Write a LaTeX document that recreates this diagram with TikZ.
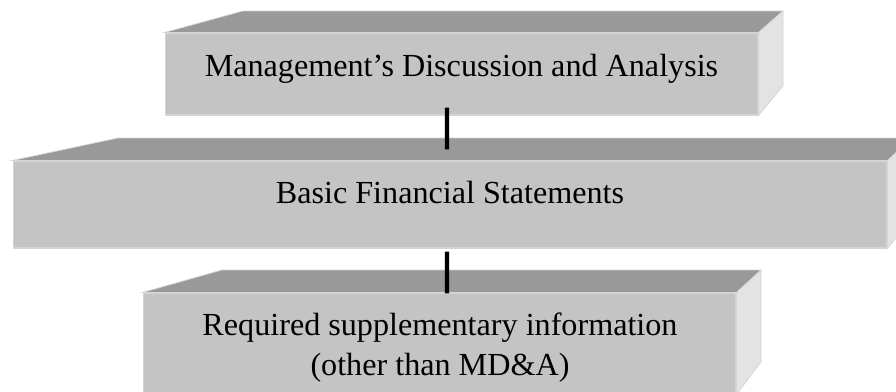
\documentclass[tikz,border=0pt]{standalone}
\usepackage{fontspec}
\setmainfont{Liberation Serif}
\definecolor{frontgray}{HTML}{C4C4C4}
\definecolor{topgray}{HTML}{999999}
\definecolor{sidegray}{HTML}{E3E3E3}
\definecolor{edgegray}{HTML}{D4D4D4}
\tikzset{
  front/.style={fill=frontgray, draw=edgegray, line width=0.6pt, inner sep=0pt},
  topface/.style={fill=topgray, draw=edgegray, line width=0.4pt},
  sideface/.style={fill=sidegray, draw=edgegray, line width=0.4pt},
  boxtext/.style={font=\fontsize{18.3}{22.7}\selectfont, inner sep=0pt, align=center},
  link/.style={line width=2.3pt, black}
}
\begin{document}
\begin{tikzpicture}[x=0.02cm, y=-0.02cm]
  \useasboundingbox (0,0) rectangle (896,392);
  \clip (0,0) rectangle (896,392);

  % front faces
  \node[front, minimum width=11.86cm, minimum height=1.64cm] (mdaface) at (461.5,74) {};
  \node[front, minimum width=17.48cm, minimum height=1.74cm] (bfsface) at (450,204.5) {};
  \node[front, minimum width=11.86cm, minimum height=2.02cm] (rsiface) at (439.5,343.5) {};

  % top and side faces
  \filldraw[topface] (mdaface.north west) -- (243,11) -- (783,11) -- (mdaface.north east) -- cycle;
  \filldraw[sideface] (mdaface.north east) -- (783,11) -- (783,86) -- (mdaface.south east) -- cycle;
  \filldraw[topface] (bfsface.north west) -- (118,138) -- (912,138) -- (bfsface.north east) -- cycle;
  \filldraw[sideface] (bfsface.north east) -- (912,138) -- (912,217) -- (bfsface.south east) -- cycle;
  \filldraw[topface] (rsiface.north west) -- (222,270) -- (761,270) -- (rsiface.north east) -- cycle;
  \filldraw[sideface] (rsiface.north east) -- (761,270) -- (761,362) -- (rsiface.south east) -- cycle;

  % labels
  \node[boxtext, anchor=base] (mda) at (461.5,76) {Management’s Discussion and Analysis};
  \node[boxtext, anchor=base] (bfs) at (450,203) {Basic Financial Statements};
  \node[boxtext] (rsi) at (440,347.5) {Required supplementary information\\(other than MD\&A)};

  % connectors
  \draw[link] ([xshift=-0.29cm,yshift=0.16cm]mdaface.south) -- ([xshift=-0.06cm,yshift=0.22cm]bfsface.north);
  \draw[link] ([xshift=-0.06cm,yshift=-0.06cm]bfsface.south) -- ([xshift=0.15cm,yshift=-0.02cm]rsiface.north);
\end{tikzpicture}
\end{document}
